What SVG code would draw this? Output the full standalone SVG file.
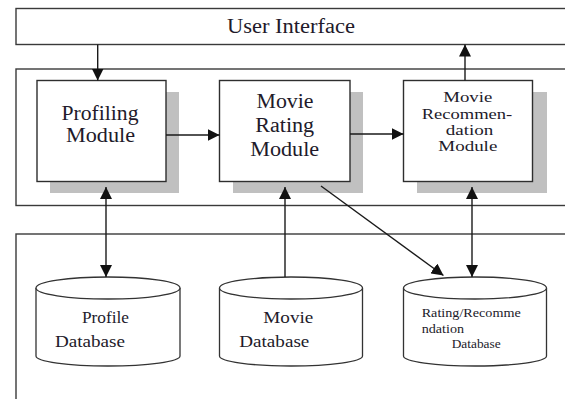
<svg xmlns="http://www.w3.org/2000/svg" width="565" height="399" viewBox="0 0 565 399">
  <style>
    .frame { fill: none; stroke: #3a3a3a; stroke-width: 1.4; }
    .box { fill: #ffffff; stroke: #2e2e2e; stroke-width: 1.4; }
    .shadow { fill: #c0c0c0; stroke: none; }
    .db { fill: #ffffff; stroke: #333333; stroke-width: 1.3; }
    .link { fill: none; stroke: #1a1a1a; stroke-width: 1.4; }
    .t { font-family: "Liberation Serif", "Times New Roman", serif; fill: #221a2a; text-anchor: middle; }
    .ts { font-family: "Liberation Serif", "Times New Roman", serif; fill: #221a2a; }
  </style>
  <defs>
    <marker id="head" viewBox="0 0 12 12" refX="12" refY="6" markerWidth="12" markerHeight="12" markerUnits="userSpaceOnUse" orient="auto-start-reverse">
      <path d="M0,0 L12,6 L0,12 Z" fill="#111111"/>
    </marker>
  </defs>

  <rect width="565" height="399" fill="#ffffff"/>

  <!-- layer frames -->
  <g id="user-interface">
    <rect class="frame" x="16" y="8.5" width="600" height="36"/>
    <text class="t" x="291" y="33" font-size="20" textLength="128" lengthAdjust="spacingAndGlyphs">User Interface</text>
  </g>
  <rect id="module-layer" class="frame" x="16" y="69" width="600" height="136.5"/>
  <rect id="data-layer" class="frame" x="16" y="234" width="600" height="200"/>

  <!-- modules -->
  <g id="profiling-module">
    <rect class="shadow" x="50" y="92" width="129" height="101"/>
    <rect class="box" x="37" y="80.5" width="129" height="101"/>
    <text class="t" x="100" y="120" font-size="20" textLength="77" lengthAdjust="spacingAndGlyphs">Profiling</text>
    <text class="t" x="100.5" y="142" font-size="20" textLength="69" lengthAdjust="spacingAndGlyphs">Module</text>
  </g>
  <g id="movie-rating-module">
    <rect class="shadow" x="233" y="92" width="130" height="101"/>
    <rect class="box" x="219.5" y="80.5" width="130.5" height="101"/>
    <text class="t" x="285" y="108" font-size="20" textLength="57" lengthAdjust="spacingAndGlyphs">Movie</text>
    <text class="t" x="284.7" y="132" font-size="20" textLength="59" lengthAdjust="spacingAndGlyphs">Rating</text>
    <text class="t" x="284.7" y="156" font-size="20" textLength="69" lengthAdjust="spacingAndGlyphs">Module</text>
  </g>
  <g id="movie-recommendation-module">
    <rect class="shadow" x="417" y="92" width="130" height="101"/>
    <rect class="box" x="403.5" y="80.5" width="129" height="101"/>
    <text class="t" x="467.8" y="102.3" font-size="15.5" textLength="49" lengthAdjust="spacingAndGlyphs">Movie</text>
    <text class="t" x="467" y="118.5" font-size="15.5" textLength="90.6" lengthAdjust="spacingAndGlyphs">Recommen-</text>
    <text class="t" x="469.5" y="134.7" font-size="15.5" textLength="47.6" lengthAdjust="spacingAndGlyphs">dation</text>
    <text class="t" x="467.8" y="150.9" font-size="15.5" textLength="59" lengthAdjust="spacingAndGlyphs">Module</text>
  </g>

  <!-- databases -->
  <g id="profile-database">
    <path class="db" d="M36,288 A72,11 0 0 1 180,288 L180,356 A72,10 0 0 1 36,356 Z"/>
    <path class="db" d="M36,288 A72,11 0 0 0 180,288"/>
    <text class="ts" x="82" y="323" font-size="16" textLength="47" lengthAdjust="spacingAndGlyphs">Profile</text>
    <text class="ts" x="55" y="347" font-size="16" textLength="70" lengthAdjust="spacingAndGlyphs">Database</text>
  </g>
  <g id="movie-database">
    <path class="db" d="M219.5,288 A71.5,11 0 0 1 362.5,288 L362.5,356 A71.5,10 0 0 1 219.5,356 Z"/>
    <path class="db" d="M219.5,288 A71.5,11 0 0 0 362.5,288"/>
    <text class="ts" x="263.3" y="323" font-size="16" textLength="50" lengthAdjust="spacingAndGlyphs">Movie</text>
    <text class="ts" x="239.3" y="347" font-size="16" textLength="70" lengthAdjust="spacingAndGlyphs">Database</text>
  </g>
  <g id="rating-recommendation-database">
    <path class="db" d="M403.5,288 A71.5,11 0 0 1 546.5,288 L546.5,356 A71.5,10 0 0 1 403.5,356 Z"/>
    <path class="db" d="M403.5,288 A71.5,11 0 0 0 546.5,288"/>
    <text class="ts" x="421.7" y="316.7" font-size="13.5" textLength="99" lengthAdjust="spacingAndGlyphs">Rating/Recomme</text>
    <text class="ts" x="421.7" y="332.7" font-size="13.5" textLength="42.3" lengthAdjust="spacingAndGlyphs">ndation</text>
    <text class="ts" x="451.7" y="347.7" font-size="13.5" textLength="49" lengthAdjust="spacingAndGlyphs">Database</text>
  </g>

  <!-- connectors -->
  <g id="connectors">
    <line class="link" x1="97.7" y1="44.5" x2="97.7" y2="80.5" marker-end="url(#head)"/>
    <line class="link" x1="465" y1="80.5" x2="465" y2="44.5" marker-end="url(#head)"/>
    <line class="link" x1="166" y1="135" x2="219.5" y2="135" marker-end="url(#head)"/>
    <line class="link" x1="350" y1="134" x2="403.5" y2="134" marker-end="url(#head)"/>
    <line class="link" x1="106" y1="187" x2="106" y2="277" marker-start="url(#head)" marker-end="url(#head)"/>
    <line class="link" x1="285" y1="277" x2="285" y2="187" marker-end="url(#head)"/>
    <line class="link" x1="472" y1="187" x2="472" y2="277" marker-start="url(#head)" marker-end="url(#head)"/>
    <line class="link" x1="321" y1="186" x2="443.5" y2="275.5" marker-end="url(#head)"/>
  </g>
</svg>
